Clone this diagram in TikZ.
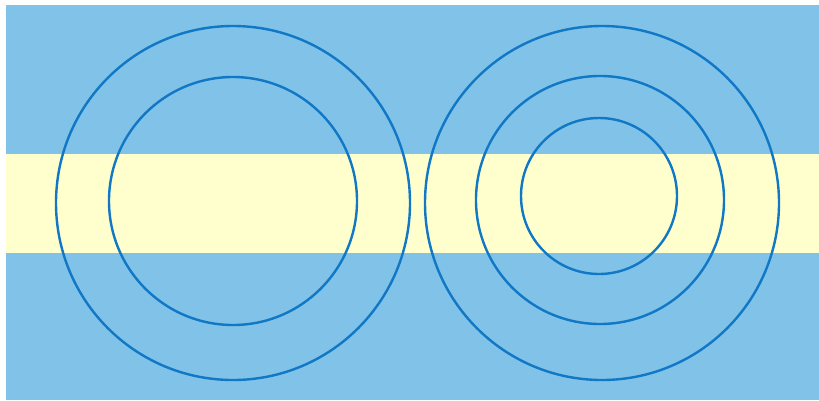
\documentclass[tikz,border=0pt]{standalone}
\usepackage{tikz}
\definecolor{skyblue}{RGB}{128,194,232}
\definecolor{paleyellow}{RGB}{255,255,206}
\definecolor{ringblue}{RGB}{16,120,196}

\begin{document}
\begin{tikzpicture}[
    x=1pt, y=-1pt,
    ring/.style={draw=ringblue, line width=2.4pt}
]
\useasboundingbox (0,0) rectangle (819,400);
\fill[white] (0,0) rectangle (819,400);
\fill[skyblue] (6,5) rectangle (819,400);
\fill[paleyellow] (6,154) rectangle (819,253);
% left pair
\draw[ring] (233,203) circle[radius=177];
\draw[ring] (233,201) circle[radius=124];
% right triple
\draw[ring] (602,203) circle[radius=177];
\draw[ring] (600,200) circle[radius=124];
\draw[ring] (599,196) circle[radius=78];
\end{tikzpicture}
\end{document}
